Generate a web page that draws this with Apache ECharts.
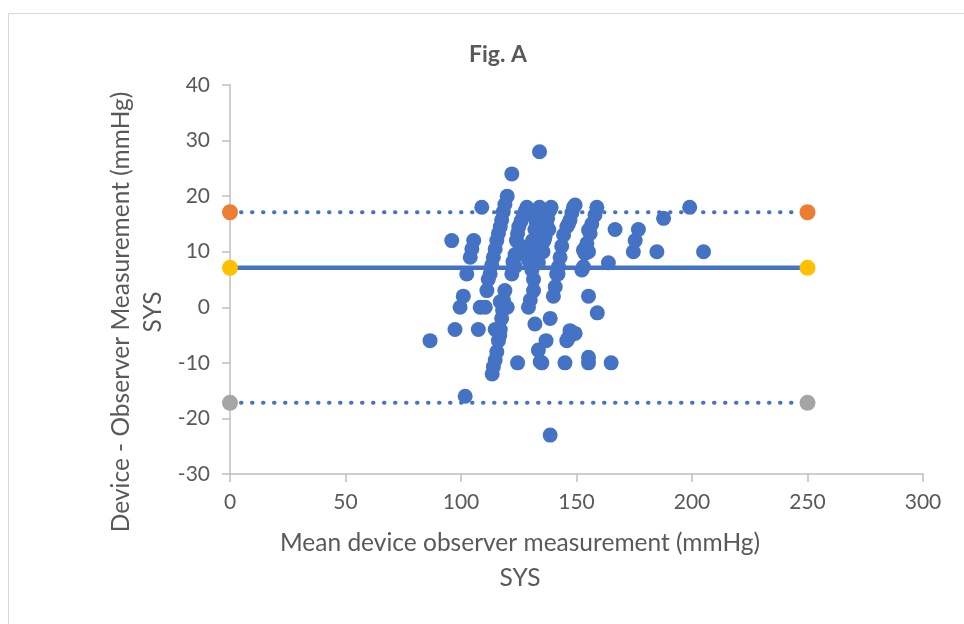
<!DOCTYPE html>
<html>
<head>
<meta charset="utf-8">
<script src="https://cdn.jsdelivr.net/npm/echarts@6/dist/echarts.min.js"></script>
<style>
  html, body { margin: 0; padding: 0; background: #fff; }
  #chart { width: 964px; height: 624px; }
</style>
</head>
<body>
<div id="chart"></div>
<script>
// Bland-Altman points: [mean of device/observer, device - observer]
var points = [
  [86.6,-6],[96,12],[97.4,-4],[99.6,0],[101,2],[101.8,-16],[102.5,6],[104,9],[104.7,10.5],[105.5,12],
  [107.5,-4],[108.3,0],[109,18],[110.5,0],[111.2,3],[111.8,5],
  [112.6,6],[113.3,7.6],[114,9],[114.8,10.5],[115.5,12],[116.2,13.3],[117,14.5],[117.6,15.7],[118.3,17.2],[119,18.5],[120,20],
  [113.5,-12],[114,-10.7],[114.8,-9.5],[115.5,-8],[116.2,-6],[116.8,-5],[117,-4],[117.6,-2],[118,-0.5],[118.4,1.3],[119,3],
  [114.8,-4],[120,0],[117,1],
  [122,6],[122.5,8.2],[123.4,9.5],[124,12],[124.5,13.3],[125,14.5],[126,15.5],[127,16.5],[127.8,17.3],[128.5,18],
  [122,24],[125.6,9.7],[123.4,7.3],[126,11],
  [129.2,0],[130,1.3],[131.4,3],[131.4,5],[130.7,6.7],[129.2,8.5],[130,10.3],[131,12],[132,14],[132.5,15.5],[133.5,17],[134,18],
  [133.5,8],[134.3,9.7],[135,11.5],[134,28],
  [140,2],[140.8,3.7],[141.4,6],[135.7,13.3],[136.4,12.7],[137,15],[137.5,16],[138.5,17.5],[139,18],[136,12],[135.5,10],[138,14],
  [142.2,7.3],[142.9,9],[143.6,11],[144.4,13],[145.8,14.5],[147.2,15.7],[148,17],[148.7,18],[142,6],[146.5,15],
  [124.5,-10],[132,-3],[138.6,-2],[136.8,-6],[133.5,-7.7],[134.3,-9.8],[135,-10],[145,-10],[147.2,-4.2],[146.5,-5.5],[145.8,-6],[138.6,-23],
  [152.3,6.7],[153,7.3],[153.7,9.7],[154.5,11.5],[155.2,10],[155.2,13.9],[155.9,13.3],[156.6,15],[158,16.6],[158.8,18],[149.4,18.4],[153,10.3],
  [155.2,2],[159,-1],[149.4,-4.7],[155.2,-9],[155.2,-10],[165,-10],
  [163.8,8],[166.7,14],[174.6,10],[175.4,12],[176.8,14],[184.8,10],[187.7,16],[199,18],[205,10]
];
// limits of agreement and mean difference, drawn from x = 0 to 250
var limitX = [0, 250];
var upperLimit = 17.1;
var meanDiff = 7.1;
var lowerLimit = -17.2;

var textColor = '#595959';
var fontName = 'Lato';

var chart = echarts.init(document.getElementById('chart'));
var option = {
  backgroundColor: '#fff',
  animation: false,
  textStyle: { fontFamily: fontName, color: textColor },
  title: {
    text: 'Fig. A',
    left: 493,
    top: 38,
    textAlign: 'center',
    textStyle: { fontFamily: fontName, fontSize: 23, fontWeight: 'bold', color: textColor }
  },
  grid: { left: 230, right: 41, top: 85, bottom: 150, containLabel: false },
  xAxis: {
    type: 'value',
    min: 0, max: 300, interval: 50,
    axisLine: { show: true, onZero: false, lineStyle: { color: '#bfbfbf', width: 1.5 } },
    axisTick: { show: true, length: 8, lineStyle: { color: '#bfbfbf', width: 1.5 } },
    axisLabel: { fontSize: 21, color: textColor, margin: 18, fontFamily: fontName },
    splitLine: { show: false }
  },
  yAxis: {
    type: 'value',
    min: -30, max: 40, interval: 10,
    axisLine: { show: true, onZero: false, lineStyle: { color: '#bfbfbf', width: 1.5 } },
    axisTick: { show: true, length: 8, lineStyle: { color: '#bfbfbf', width: 1.5 } },
    axisLabel: { fontSize: 21, color: textColor, margin: 20, fontFamily: fontName },
    splitLine: { show: false }
  },
  graphic: [
    { type: 'rect', shape: { x: 8.5, y: 13.5, width: 1000, height: 700 },
      style: { fill: 'none', stroke: '#d9d9d9', lineWidth: 1 }, silent: true },
    { type: 'text', x: 520, y: 543,
      style: { text: 'Mean device observer measurement (mmHg)', fontSize: 24.5, fontFamily: fontName,
               fill: textColor, textAlign: 'center', textVerticalAlign: 'middle' } },
    { type: 'text', x: 520, y: 578,
      style: { text: 'SYS', fontSize: 24.5, fontFamily: fontName,
               fill: textColor, textAlign: 'center', textVerticalAlign: 'middle' } },
    { type: 'text', x: 121, y: 312, rotation: Math.PI / 2,
      style: { text: 'Device - Observer Measurement (mmHg)', fontSize: 24.5, fontFamily: fontName,
               fill: textColor, textAlign: 'center', textVerticalAlign: 'middle' } },
    { type: 'text', x: 153, y: 312, rotation: Math.PI / 2,
      style: { text: 'SYS', fontSize: 24.5, fontFamily: fontName,
               fill: textColor, textAlign: 'center', textVerticalAlign: 'middle' } }
  ],
  series: [
    {
      name: 'SYS',
      type: 'scatter',
      data: points,
      symbol: 'circle',
      symbolSize: 15,
      itemStyle: { color: '#4472C4', opacity: 1 }
    },
    {
      name: 'Upper limit',
      type: 'line',
      data: limitX.map(function (x) { return [x, upperLimit]; }),
      symbol: 'circle', symbolSize: 16, showSymbol: true,
      itemStyle: { color: '#ED7D31' },
      lineStyle: { color: '#4472C4', width: 4, type: [0.5, 10.5], cap: 'round' }
    },
    {
      name: 'Mean',
      type: 'line',
      data: limitX.map(function (x) { return [x, meanDiff]; }),
      symbol: 'circle', symbolSize: 16, showSymbol: true,
      itemStyle: { color: '#FFC000' },
      lineStyle: { color: '#4472C4', width: 4.5 }
    },
    {
      name: 'Lower limit',
      type: 'line',
      data: limitX.map(function (x) { return [x, lowerLimit]; }),
      symbol: 'circle', symbolSize: 16, showSymbol: true,
      itemStyle: { color: '#A5A5A5' },
      lineStyle: { color: '#4472C4', width: 4, type: [0.5, 10.5], cap: 'round' }
    }
  ]
};
chart.setOption(option);
</script>
</body>
</html>
